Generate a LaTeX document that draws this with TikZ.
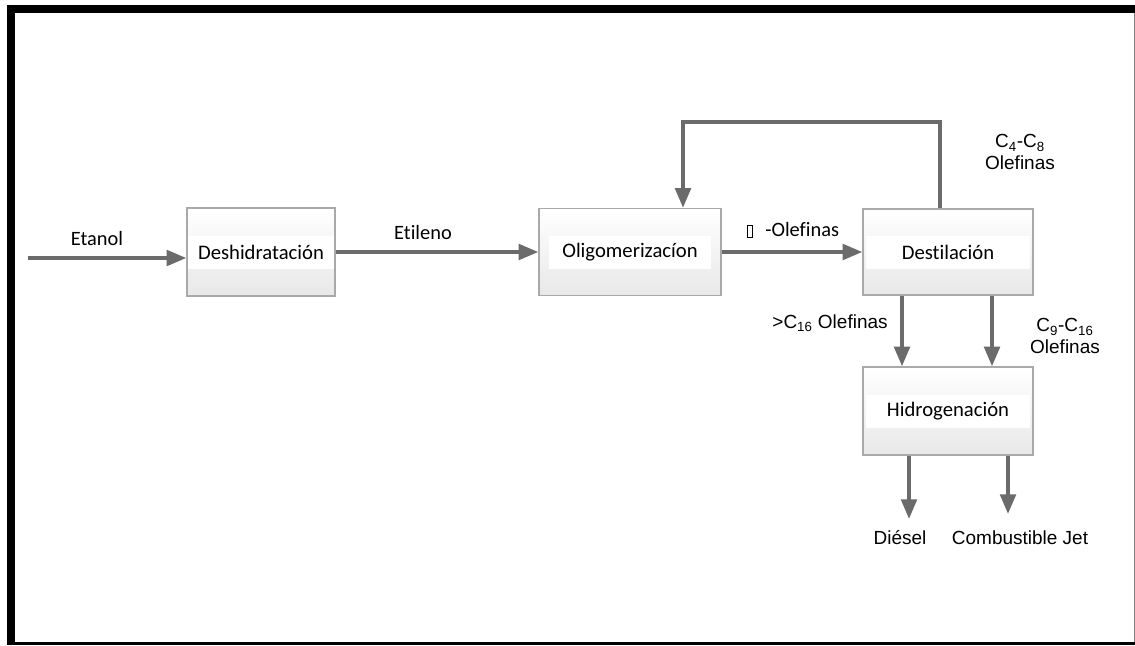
\documentclass[tikz,border=0pt]{standalone}
\usepackage{fontspec}
\setmainfont{Liberation Sans}
\newfontfamily\calib[Ligatures=NoCommon]{Carlito}
\usetikzlibrary{arrows.meta,calc}
\definecolor{flowgray}{HTML}{6B6B6B}
\definecolor{edge}{HTML}{A9A9A9}
\definecolor{boxlow}{HTML}{E8E8E8}
\newcommand\tofu{{\setlength{\fboxsep}{0pt}\setlength{\fboxrule}{0.5pt}\fbox{\rule{0pt}{7.5pt}\hspace{3pt}}}\hspace{9pt}}

\begin{document}
\begin{tikzpicture}[x=0.025cm,y=-0.025cm,
  proc/.style={draw=edge,line width=0.9pt,top color=white,bottom color=boxlow,inner sep=0pt,
    font=\calib\fontsize{14.7}{17}\selectfont,
    path picture={\fill[white] ($(path picture bounding box.west)+(#1,-16)$) rectangle ($(path picture bounding box.east)+(-#1,17)$);}},
  proc/.default=2,
  flow/.style={flowgray,line width=2.7pt,-{Triangle[length=14pt,width=11pt]}},
  lbl/.style={font=\fontsize{13.5}{15}\selectfont,align=center,inner sep=1pt},
  clbl/.style={font=\calib\fontsize{14.5}{17}\selectfont,inner sep=1pt}]
  \useasboundingbox (0,0) rectangle (1135,645);
  \fill[white] (0,0) rectangle (1135,645);
  % frame
  \fill (7,5) rectangle (15,645);
  \fill (7,5) rectangle (1135,13);
  \fill (7,642) rectangle (1135,645);
  \draw[gray,line width=0.7pt] (1134,13) -- (1134,642);
  % process boxes
  \node[proc=0,minimum width=3.7cm,minimum height=2.2cm] (des) at (261,252) {Deshidratación};
  \node[proc=10,minimum width=4.55cm,minimum height=2.175cm] (olg) at (630,252) {Oligomerizacíon};
  \node[proc=3,minimum width=4.25cm,minimum height=2.15cm] (dst) at (948,252) {Destilación};
  \node[proc=3,minimum width=4.25cm,minimum height=2.2cm] (hyd) at (948,411) {Hidrogenación};
  % streams
  \coordinate (feed) at (28,258);
  \draw[flow] (feed) -- (feed -| des.west);
  \draw[flow] (des.east) -- (olg.west);
  \draw[flow] (olg.east) -- (dst.west);
  \coordinate (loop) at (683,122);
  \draw[flow] ($(dst.north)+(-8,0)$) |- (loop) -- (loop |- olg.north);
  \draw[flow] ($(dst.south)+(-46,0)$) -- ($(hyd.north)+(-46,0)$);
  \draw[flow] ($(dst.south)+(44,0)$) -- ($(hyd.north)+(44,0)$);
  \coordinate (dsl) at (909,519);
  \coordinate (jet) at (1008,514);
  \draw[flow] (dsl |- hyd.south) -- (dsl);
  \draw[flow] (jet |- hyd.south) -- (jet);
  % labels
  \node[clbl] (etanol) at (97,238) {Etanol};
  \node[clbl] (etileno) at (423,232) {Etileno};
  \node[clbl] (alfa) at (793,230) {\tofu-Olefinas};
  \node[lbl] (c48) at (1020,152) {C\textsubscript{4}-C\textsubscript{8}\\Olefinas};
  \node[lbl] (c16) at (830,323) {>C\textsubscript{16} Olefinas};
  \node[lbl] (c916) at (1065,336) {C\textsubscript{9}-C\textsubscript{16}\\Olefinas};
  \node[lbl] (diesel) at (900,538) {Diésel};
  \node[lbl] (jetfuel) at (1020,538) {Combustible Jet};
\end{tikzpicture}
\end{document}
